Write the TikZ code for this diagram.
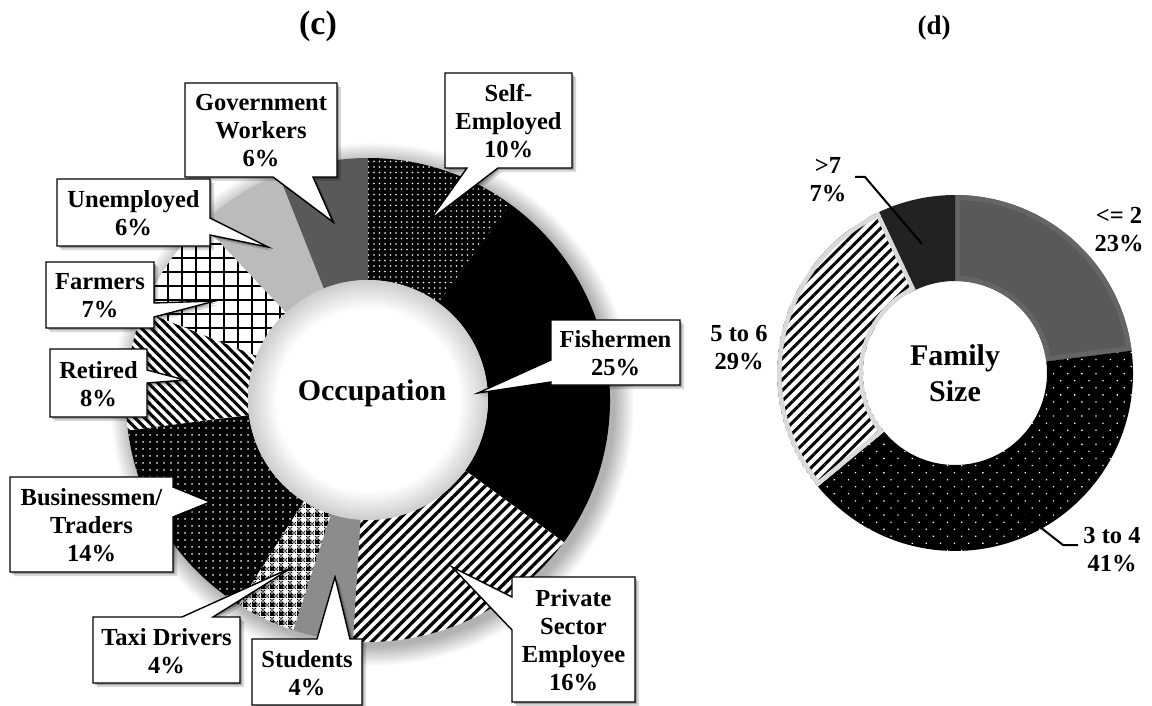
\documentclass[tikz,border=0pt]{standalone}
\usepackage{fontspec}
\setmainfont{Liberation Serif}
\usetikzlibrary{patterns.meta,shadows}

\definecolor{govc}{HTML}{595959}
\definecolor{unempc}{HTML}{BBBBBB}
\definecolor{studc}{HTML}{8C8C8C}
\definecolor{leqc}{HTML}{595959}
\definecolor{leqb}{HTML}{656565}
\definecolor{gtc}{HTML}{222222}
\definecolor{stripeb}{HTML}{DADADA}

\pgfdeclareradialshading{haloshade}{\pgfpoint{0bp}{0bp}}{color(0bp)=(black!30); color(23.1bp)=(black!30); color(25bp)=(white); color(50bp)=(white)}
\pgfdeclareradialshading{holeshade}{\pgfpoint{0bp}{0bp}}{color(0bp)=(white); color(19bp)=(white); color(25bp)=(black!20); color(50bp)=(black!20)}

\tikzdeclarepattern{
  name=taxicheck,
  type=uncolored,
  bounding box={(0pt,0pt) and (9pt,9pt)},
  tile size={(9pt,9pt)},
  code={
    \fill (0pt,0pt) rectangle (4.5pt,4.5pt);
    \fill (4.5pt,0pt) rectangle (6pt,1.5pt);
    \fill (7.5pt,0pt) rectangle (9pt,1.5pt);
    \fill (6pt,1.5pt) rectangle (7.5pt,3pt);
    \fill (4.5pt,3pt) rectangle (6pt,4.5pt);
    \fill (7.5pt,3pt) rectangle (9pt,4.5pt);
    \fill (0pt,4.5pt) rectangle (1.5pt,6pt);
    \fill (3pt,4.5pt) rectangle (4.5pt,6pt);
    \fill (1.5pt,6pt) rectangle (3pt,7.5pt);
    \fill (0pt,7.5pt) rectangle (1.5pt,9pt);
    \fill (3pt,7.5pt) rectangle (4.5pt,9pt);
  }
}

\newcommand\slc[5]{\path[#5] (#1:#3) arc[start angle=#1,end angle=#2,radius=#3] -- (#2:#4) arc[start angle=#2,end angle=#1,radius=#4] -- cycle;}
\newcommand\slcb[6]{\begin{scope}\clip (#1:#3) arc[start angle=#1,end angle=#2,radius=#3] -- (#2:#4) arc[start angle=#2,end angle=#1,radius=#4] -- cycle;
\draw[#5, line width=#6] (#1:#3) arc[start angle=#1,end angle=#2,radius=#3] -- (#2:#4) arc[start angle=#2,end angle=#1,radius=#4] -- cycle;\end{scope}}

\tikzset{
  callout/.style={fill=white, draw=black, line width=1.4pt, line join=miter,
    drop shadow={shadow xshift=4pt, shadow yshift=-4pt, opacity=0.15, fill=black},
    drop shadow={shadow xshift=2pt, shadow yshift=-2pt, opacity=0.25, fill=black}},
  lbl/.style={font=\bfseries\fontsize{24.5}{28}\selectfont, align=center, inner sep=0pt},
  ctr/.style={font=\bfseries\fontsize{30}{36}\selectfont, align=center, inner sep=0pt},
  ttl/.style={font=\bfseries\fontsize{34}{40}\selectfont, inner sep=0pt},
  ttlb/.style={font=\bfseries\fontsize{27}{32}\selectfont, inner sep=0pt},
  leader/.style={draw=black, line width=2pt, line join=miter},
  whitedots/.style={preaction={fill=black}, pattern={Dots[radius=0.9pt,distance=5.5pt]}, pattern color=white},
  busdots/.style={preaction={fill=black}, pattern={Dots[radius=1pt,distance=6.5pt]}, pattern color=white},
  sparsedots/.style={preaction={fill=black}, pattern={Dots[radius=0.9pt,distance=10pt,angle=45]}, pattern color=white},
}

\begin{document}
\begin{tikzpicture}[x=1pt,y=-1pt]
\useasboundingbox (0,0) rectangle (1152,706);
\fill[white] (0,0) rectangle (1152,706);

% titles
\node[ttl] (tc) at (318,26) {(c)};
\node[ttlb] (td) at (934,28) {(d)};

% ---------------- left donut: Occupation ----------------
\begin{scope}[shift={(368,400)}]
  \shade[shading=haloshade] (4,4) circle (262);
  \slc{-90}{-54}{242}{120}{whitedots}
  \slc{-54}{36}{242}{120}{fill=black}
  \slc{36}{93.6}{242}{120}{preaction={fill=white}, pattern={Lines[angle=45,distance=7.5pt,line width=3.4pt]}, pattern color=black}
  \slc{93.6}{108}{242}{120}{fill=studc}
  \slc{108}{122.4}{242}{120}{preaction={fill=white}, pattern=taxicheck, pattern color=black}
  \slc{122.4}{172.8}{242}{120}{busdots}
  \slc{172.8}{201.6}{242}{120}{preaction={fill=white}, pattern={Lines[angle=-45,distance=6.8pt,line width=3.1pt]}, pattern color=black}
  \slc{201.6}{226.8}{242}{120}{preaction={fill=white}, pattern={Hatch[distance=14pt,line width=1.6pt]}, pattern color=black}
  \slc{226.8}{248.4}{242}{120}{fill=unempc}
  \slc{248.4}{270}{242}{120}{fill=govc}
  \shade[shading=holeshade] (0,0) circle (120);
\end{scope}
\node[ctr, anchor=base] (occ) at (372,400) {Occupation};

% callouts
\coordinate (pgov) at (333,222);
\path[callout] (185,83) -- (337,83) -- (337,177) -- (313,177) -- (pgov) -- (273,177) -- (185,177) -- cycle;
\node[lbl] (lgov) at (261,131) {Government\\Workers\\6\%};

\coordinate (pself) at (430,220);
\path[callout] (445,73) -- (572,73) -- (572,168) -- (498,168) -- (pself) -- (467,168) -- (445,168) -- cycle;
\node[lbl] (lself) at (508.5,121) {Self-\\Employed\\10\%};

\coordinate (punemp) at (268,247);
\path[callout] (57,179) -- (210,179) -- (210,218) -- (punemp) -- (210,235) -- (210,246) -- (57,246) -- cycle;
\node[lbl] (lunemp) at (133.5,213) {Unemployed\\6\%};

\coordinate (pfarm) at (215,301);
\path[callout] (46,262) -- (154,262) -- (154,303) -- (pfarm) -- (154,317) -- (154,328) -- (46,328) -- cycle;
\node[lbl] (lfarm) at (100,296) {Farmers\\7\%};

\coordinate (pret) at (185,380);
\path[callout] (50,349) -- (147,349) -- (147,370) -- (pret) -- (147,383) -- (147,417) -- (50,417) -- cycle;
\node[lbl] (lret) at (98.5,384) {Retired\\8\%};

\coordinate (pfish) at (478,393);
\path[callout] (551,320) -- (680,320) -- (680,385) -- (551,385) -- (551,382) -- (pfish) -- (551,360) -- cycle;
\node[lbl] (lfish) at (615.5,353) {Fishermen\\25\%};

\coordinate (ppriv) at (452,567);
\path[callout] (512,577) -- (635,577) -- (635,702) -- (512,702) -- (512,630) -- (ppriv) -- (512,597) -- cycle;
\node[lbl] (lpriv) at (573.5,640) {Private\\Sector\\Employee\\16\%};

\coordinate (pbus) at (210,502);
\path[callout] (10,477) -- (173,477) -- (173,487) -- (pbus) -- (173,517) -- (173,572) -- (10,572) -- cycle;
\node[lbl] (lbus) at (91.5,525) {Businessmen/\\Traders\\14\%};

\coordinate (ptaxi) at (293,567);
\path[callout] (93,617) -- (182,617) -- (ptaxi) -- (213,617) -- (240,617) -- (240,683) -- (93,683) -- cycle;
\node[lbl] (ltaxi) at (166.5,651) {Taxi Drivers\\4\%};

\coordinate (pstud) at (335,577);
\path[callout] (252,639) -- (317,639) -- (pstud) -- (350,639) -- (362,639) -- (362,705) -- (252,705) -- cycle;
\node[lbl] (lstud) at (307,673) {Students\\4\%};

% ---------------- right donut: Family Size ----------------
\begin{scope}[shift={(955,373)}]
  \slc{-90}{-7.2}{178}{92}{fill=leqc}
  \slcb{-90}{-7.2}{178}{92}{leqb}{10pt}
  \slc{-7.2}{140.4}{178}{92}{sparsedots}
  \slc{140.4}{244.8}{178}{92}{preaction={fill=white}, pattern={Lines[angle=45,distance=7.5pt,line width=3pt]}, pattern color=black}
  \slcb{140.4}{244.8}{178}{92}{stripeb}{9pt}
  \slc{244.8}{270}{178}{92}{fill=gtc}
\end{scope}
\node[ctr] (fam) at (955,373) {Family\\Size};

\node[lbl] (lgt7) at (828,180) {>7\\7\%};
\node[lbl] (lle2) at (1119,230) {<= 2\\23\%};
\node[lbl] (l56) at (739,348) {5 to 6\\29\%};
\node[lbl] (l34) at (1112,550) {3 to 4\\41\%};

\coordinate (a7) at (855,177);
\coordinate (b7) at (865,177);
\coordinate (c7) at (922,244);
\draw[leader] (a7) -- (b7) -- (c7);

\coordinate (a34) at (1008,502);
\coordinate (b34) at (1063,545);
\coordinate (c34) at (1078,545);
\draw[leader] (a34) -- (b34) -- (c34);

\end{tikzpicture}
\end{document}
